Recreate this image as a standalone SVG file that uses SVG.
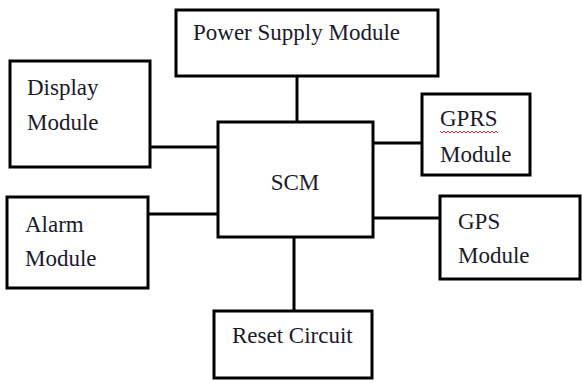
<svg xmlns="http://www.w3.org/2000/svg" width="582" height="383" viewBox="0 0 582 383">
<style>
.box{fill:#fff;stroke:#000;stroke-width:3}
.ln{stroke:#000;stroke-width:3;fill:none}
text{font-family:"Liberation Serif","Times New Roman",serif;font-size:23px;fill:#1a1a2a}
.sq{fill:none;stroke:#e03030;stroke-width:1}
</style>
<rect width="582" height="383" fill="#fff"/>
<g id="connectors">
<line class="ln" x1="297" y1="76" x2="297" y2="122"/>
<line class="ln" x1="150" y1="147" x2="218" y2="147"/>
<line class="ln" x1="148" y1="214" x2="218" y2="214"/>
<line class="ln" x1="373" y1="143" x2="422" y2="143"/>
<line class="ln" x1="373" y1="218" x2="440" y2="218"/>
<line class="ln" x1="294" y1="237" x2="294" y2="311"/>
</g>
<g id="power">
<rect class="box" x="176" y="10" width="262" height="66"/>
<text x="193" y="40">Power Supply Module</text>
</g>
<g id="display">
<rect class="box" x="10" y="61" width="140" height="106"/>
<text x="27" y="95">Display</text>
<text x="27" y="130">Module</text>
</g>
<g id="scm">
<rect class="box" x="218" y="122" width="155" height="115"/>
<text x="295" y="190" text-anchor="middle">SCM</text>
</g>
<g id="gprs">
<rect class="box" x="422" y="94" width="108" height="81"/>
<text x="440" y="126">GPRS</text>
<path class="sq" d="M440 131 l2 2 l2 -2 l2 2 l2 -2 l2 2 l2 -2 l2 2 l2 -2 l2 2 l2 -2 l2 2 l2 -2 l2 2 l2 -2 l2 2 l2 -2 l2 2 l2 -2 l2 2 l2 -2 l2 2 l2 -2 l2 2 l2 -2 l2 2 l2 -2 l2 2 l2 -2 l2 2"/>
<text x="440" y="162">Module</text>
</g>
<g id="alarm">
<rect class="box" x="7" y="197" width="141" height="91"/>
<text x="25" y="232">Alarm</text>
<text x="25" y="266">Module</text>
</g>
<g id="gps">
<rect class="box" x="440" y="196" width="140" height="83"/>
<text x="458" y="229">GPS</text>
<text x="458" y="263">Module</text>
</g>
<g id="reset">
<rect class="box" x="214" y="311" width="158" height="67"/>
<text x="232" y="343">Reset Circuit</text>
</g>
</svg>
